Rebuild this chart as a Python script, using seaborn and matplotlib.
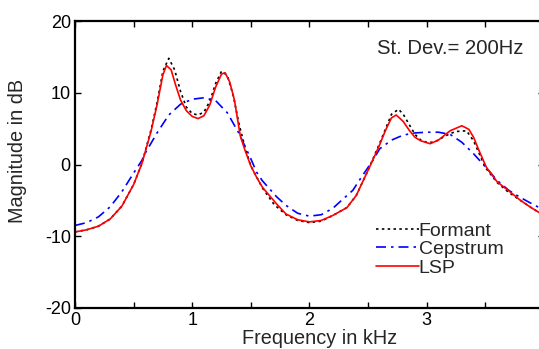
import matplotlib
matplotlib.use("Agg")
import matplotlib.pyplot as plt
import seaborn as sns
import pandas as pd

# values (kHz, dB)
formant_f = [0, 0.1, 0.2, 0.3, 0.4, 0.5, 0.57, 0.6, 0.65, 0.7, 0.75, 0.8, 0.85, 0.9,
             0.95, 1.0, 1.05, 1.1, 1.15, 1.2, 1.25, 1.3, 1.35, 1.4, 1.45, 1.5, 1.6,
             1.7, 1.8, 1.9, 2.0, 2.1, 2.2, 2.32, 2.4, 2.5, 2.6, 2.65, 2.7, 2.76,
             2.8, 2.85, 2.9, 2.95, 3.0, 3.05, 3.1, 3.15, 3.2, 3.25, 3.34, 3.4, 3.5,
             3.6, 3.7, 3.8, 3.9, 3.96]
formant_db = [-9.4, -9.1, -8.6, -7.6, -5.8, -2.8, 0.1, 1.9, 4.9, 8.6, 13.0, 14.8,
              13.2, 10.2, 8.0, 7.1, 6.9, 7.3, 8.8, 11.3, 13.0, 12.4, 9.6, 5.6, 2.4,
              -0.2, -3.3, -5.6, -7.0, -7.8, -8.1, -7.9, -7.1, -6.0, -4.3, -0.8, 3.0,
              5.0, 7.0, 7.7, 7.0, 5.6, 4.2, 3.4, 3.1, 3.1, 3.4, 3.9, 4.3, 4.6, 4.7,
              3.3, -0.4, -2.5, -3.9, -5.0, -6.1, -6.7]

lsp_f = [0, 0.1, 0.2, 0.3, 0.4, 0.5, 0.57, 0.6, 0.65, 0.7, 0.75, 0.78, 0.82, 0.86,
         0.9, 0.95, 1.0, 1.05, 1.1, 1.15, 1.2, 1.25, 1.28, 1.32, 1.36, 1.41, 1.45,
         1.5, 1.55, 1.6, 1.72, 1.8, 1.9, 2.0, 2.1, 2.2, 2.32, 2.4, 2.5, 2.54, 2.6,
         2.65, 2.7, 2.74, 2.8, 2.85, 2.9, 2.95, 3.03, 3.1, 3.2, 3.3, 3.36, 3.4,
         3.45, 3.51, 3.6, 3.71, 3.8, 3.9, 3.96]
lsp_db = [-9.4, -9.1, -8.6, -7.6, -5.8, -2.8, 0.1, 1.8, 4.7, 8.3, 12.5, 13.8, 13.2,
          11.0, 9.0, 7.5, 6.7, 6.4, 6.8, 8.3, 10.8, 12.6, 12.8, 11.5, 9.0, 4.0,
          2.0, -0.2, -1.8, -3.2, -5.5, -6.9, -7.7, -8.0, -7.8, -7.1, -6.0, -4.3,
          -0.8, 0.6, 2.8, 4.8, 6.5, 6.9, 6.0, 4.8, 3.8, 3.3, 2.9, 3.4, 4.7, 5.4,
          4.9, 3.8, 1.8, -0.4, -2.4, -3.8, -5.0, -6.1, -6.7]

cep_f = [0, 0.1, 0.2, 0.3, 0.4, 0.5, 0.57, 0.6, 0.7, 0.8, 0.9, 1.0, 1.1, 1.2, 1.3,
         1.4, 1.5, 1.55, 1.6, 1.72, 1.8, 1.9, 2.0, 2.1, 2.2, 2.26, 2.37, 2.45,
         2.54, 2.6, 2.7, 2.8, 2.9, 3.0, 3.1, 3.2, 3.3, 3.4, 3.5, 3.6, 3.7, 3.8,
         3.9, 3.96]
cep_db = [-8.5, -8.1, -7.3, -5.9, -3.8, -1.2, 0.55, 1.6, 4.4, 6.9, 8.4, 9.1, 9.3,
          8.9, 7.2, 4.3, 0.8, -1.1, -2.3, -4.5, -5.7, -6.8, -7.2, -7.0, -6.1, -5.2,
          -3.6, -1.6, 0.55, 2.2, 3.4, 4.1, 4.4, 4.5, 4.5, 4.2, 3.1, 1.5, -0.3,
          -2.2, -3.6, -4.6, -5.5, -6.0]

series = ["Formant", "Cepstrum", "LSP"]
colors = {"Formant": "black", "Cepstrum": "#0000ff", "LSP": "#ff0000"}
dashes = {"Formant": (1.5, 2.0), "Cepstrum": (6, 3, 1.5, 3), "LSP": ""}

df = pd.concat([
    pd.DataFrame({"f": formant_f, "db": formant_db, "kind": "Formant"}),
    pd.DataFrame({"f": cep_f, "db": cep_db, "kind": "Cepstrum"}),
    pd.DataFrame({"f": lsp_f, "db": lsp_db, "kind": "LSP"}),
])

sns.set_style("ticks")
plt.rcParams["font.family"] = ["Liberation Sans", "DejaVu Sans"]
plt.rcParams["axes.unicode_minus"] = False

fig = plt.figure(figsize=(5.39, 3.49), dpi=100)
ax = fig.add_axes([0.1391, 0.1175, 0.870, 0.8223])

sns.lineplot(data=df, x="f", y="db", hue="kind", style="kind", hue_order=series,
             style_order=series, palette=colors, dashes=dashes, sort=False,
             linewidth=1.2, ax=ax)

ax.set_xlim(0, 4)
ax.set_ylim(-20, 20)
ax.set_xticks([0, 0.5, 1, 1.5, 2, 2.5, 3, 3.5, 4])
ax.set_xticklabels(["0", "", "1", "", "2", "", "3", "", ""])
ax.set_yticks([-20, -10, 0, 10, 20])
ax.tick_params(direction="in", length=4, width=1, top=True, right=True,
               labelsize=13, colors="black", pad=3)
for s in ax.spines.values():
    s.set_linewidth(1.6)
    s.set_color("black")

ax.set_xlabel("Frequency in kHz", fontsize=14.3)
ax.xaxis.set_label_coords(0.521, -0.073)
ax.set_ylabel("Magnitude in dB", fontsize=14.3)
ax.yaxis.set_label_coords(-0.102, 0.547)

ax.text(3.2, 16.1, "St. Dev.= 200Hz", fontsize=14.6, ha="center", va="center")

leg = ax.legend(loc="upper left", bbox_to_anchor=(0.642, 0.30), frameon=False,
                fontsize=14, handlelength=2.2, handletextpad=0.0,
                labelspacing=0.05, borderpad=0, borderaxespad=0)

fig.savefig("out.png", dpi=100)
